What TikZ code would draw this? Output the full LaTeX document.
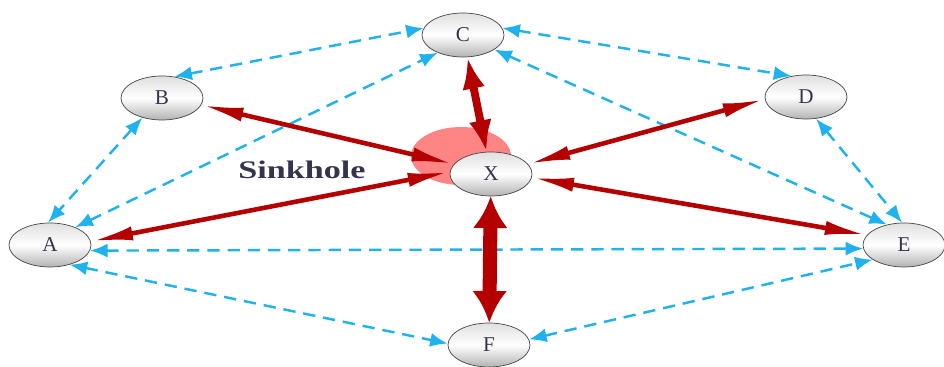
\documentclass[tikz,border=0pt]{standalone}
\usepackage{fontspec}
\setmainfont{Liberation Serif}
\usetikzlibrary{arrows.meta,shapes.geometric}

\definecolor{azul}{HTML}{1FB2EE}
\definecolor{vermelho}{HTML}{B40000}
\definecolor{rosa}{HTML}{FF8585}
\definecolor{letra}{HTML}{34344E}

\tikzset{
  no/.style={ellipse, draw=gray!55!black, thin, minimum width=1.64cm, minimum height=0.88cm,
    top color=gray!25, bottom color=gray!60, middle color=white, font=\large, text=letra},
  tracejada/.style={draw=azul, line width=1.4pt, dash pattern=on 7pt off 4.5pt,
    >={Latex[length=10pt,width=8pt]}, <->},
  ligacao/.style={draw=vermelho, line width=2.6pt, >={Latex[length=24pt,width=8pt]}, <->},
}

\begin{document}
\begin{tikzpicture}[x=0.02cm, y=-0.02cm]
    \useasboundingbox (0,0) rectangle (944,367);

    % Zona do sinkhole
    \fill[rosa] (461,156) ellipse [x radius=1cm, y radius=0.58cm];

    % Nos
    \node[no] (C) at (463,35) {C};
    \node[no] (B) at (162,98) {B};
    \node[no] (D) at (806,97) {D};
    \node[no] (X) at (491,174) {X};
    \node[no] (A) at (50,245) {A};
    \node[no] (E) at (904,245) {E};
    \node[no] (F) at (489,345) {F};

    \node[font=\Large\bfseries, text=letra, xscale=1.35] (sink) at (302,170) {Sinkhole};

    % Ligacoes tracejadas
    \draw[tracejada] (B.60) -- (C.170);
    \draw[tracejada] (A.35) -- (C.215);
    \draw[tracejada] (C.10) -- (D.125);
    \draw[tracejada] (C.-25) -- (E.130);
    \draw[tracejada] (B.225) -- (A.95);
    \draw[tracejada] (D.-65) -- (E.95);
    \draw[tracejada] (A.-8) -- (E.185);
    \draw[tracejada] (A.-45) -- (F.178);
    \draw[tracejada] (F.8) -- (E.205);

    % Ligacoes ao no X
    \draw[ligacao] (B.-10) -- (X.165);
    \draw[ligacao] (A.5) -- (X.177);
    \draw[ligacao] (D.183) -- (X.15);
    \draw[ligacao] (E.165) -- (X.-5);
    \draw[ligacao, line width=4.5pt, >={Latex[length=18pt,width=13pt]}] (C) -- (X);
    \draw[ligacao, line width=8pt, >={Latex[length=18pt,width=20pt]}] (X) -- (F);

\end{tikzpicture}
\end{document}
